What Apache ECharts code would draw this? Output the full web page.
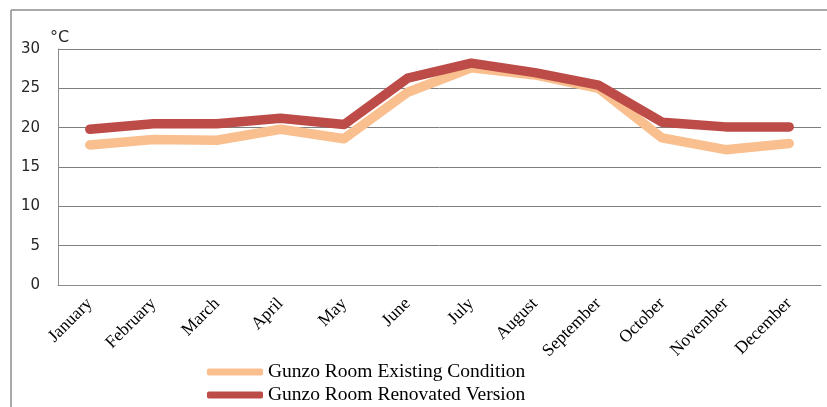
<!DOCTYPE html>
<html>
<head>
<meta charset="utf-8">
<script src="https://cdn.jsdelivr.net/npm/echarts@6/dist/echarts.min.js"></script>
<style>
  html, body { margin: 0; padding: 0; background: #fff; }
  #chart { width: 827px; height: 407px; }
</style>
</head>
<body>
<div id="chart"></div>
<script>
// Monthly indoor temperatures (°C)
const months = ['January', 'February', 'March', 'April', 'May', 'June', 'July',
  'August', 'September', 'October', 'November', 'December'];
const existing = [17.8, 18.5, 18.4, 19.8, 18.6, 24.5, 27.6, 26.7, 25.0, 18.7, 17.2, 18.0];
const renovated = [19.8, 20.5, 20.5, 21.2, 20.4, 26.3, 28.2, 27.0, 25.4, 20.7, 20.1, 20.1];
const seriesNames = ['Gunzo Room Existing Condition', 'Gunzo Room Renovated Version'];
const yTicks = { min: 0, max: 30, step: 5 };

// one legend per series, stacked under the axis labels
const legendBase = {
  orient: 'vertical',
  left: 207,
  padding: 0,
  itemWidth: 56,
  itemHeight: 7,
  icon: 'roundRect',
  textStyle: { fontFamily: 'Liberation Serif', fontSize: 19.5, color: '#000' }
};

const chart = echarts.init(document.getElementById('chart'));
chart.setOption({
  animation: false,
  backgroundColor: '#ffffff',
  grid: { left: 58, right: 6, top: 49, bottom: 122 },
  graphic: [
    { type: 'line', shape: { x1: 11, y1: 10, x2: 827, y2: 10 }, style: { stroke: '#8c8c8c', lineWidth: 1.5 } },
    { type: 'line', shape: { x1: 11, y1: 10, x2: 11, y2: 407 }, style: { stroke: '#8c8c8c', lineWidth: 1.5 } }
  ],
  legend: [
    Object.assign({}, legendBase, { top: 362, data: [seriesNames[0]] }),
    Object.assign({}, legendBase, { top: 385, data: [seriesNames[1]] })
  ],
  xAxis: {
    type: 'category',
    data: months,
    boundaryGap: true,
    axisLine: { lineStyle: { color: '#8c8c8c', width: 1 } },
    axisTick: { show: false },
    axisLabel: {
      rotate: 45,
      margin: 16,
      interval: 0,
      fontFamily: 'Liberation Serif',
      fontSize: 17.5,
      color: '#000'
    }
  },
  yAxis: {
    type: 'value',
    min: yTicks.min,
    max: yTicks.max,
    interval: yTicks.step,
    name: '°C',
    nameLocation: 'end',
    nameGap: 3,
    nameTextStyle: { fontFamily: 'DejaVu Sans', fontSize: 16, color: '#262626', align: 'left', padding: [0, 0, 0, -8] },
    axisLine: { show: true, lineStyle: { color: '#8c8c8c', width: 1 } },
    axisTick: { show: false },
    splitLine: { lineStyle: { color: '#7f7f7f', width: 1 } },
    axisLabel: { fontFamily: 'DejaVu Sans', fontSize: 15, color: '#262626', margin: 18 }
  },
  series: [
    {
      name: seriesNames[0],
      type: 'line',
      data: existing,
      symbol: 'none',
      color: '#f9bf8e',
      lineStyle: { width: 9.5, color: '#f9bf8e', cap: 'round', join: 'round' }
    },
    {
      name: seriesNames[1],
      type: 'line',
      data: renovated,
      symbol: 'none',
      color: '#bd4b48',
      lineStyle: { width: 9.5, color: '#bd4b48', cap: 'round', join: 'round' }
    }
  ]
});
</script>
</body>
</html>
